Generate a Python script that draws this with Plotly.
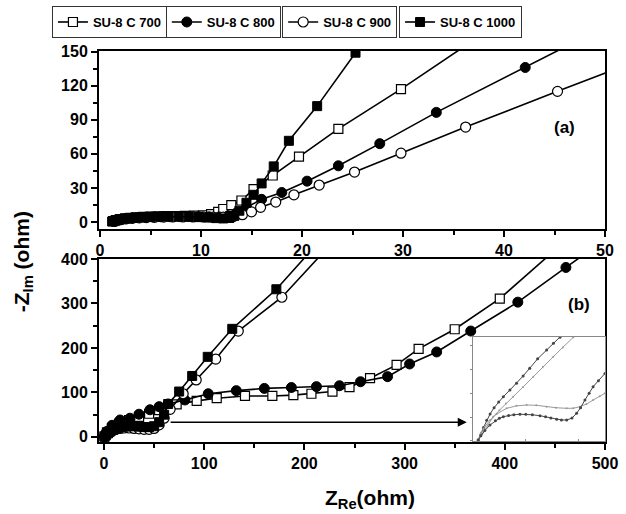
import plotly.graph_objects as go

names = ["SU-8 C 700", "SU-8 C 800", "SU-8 C 900", "SU-8 C 1000"]

# ---- panel (a) ----
xa_700 = [1.3, 1.6, 2.0, 2.5, 3.0, 3.6, 4.3, 5.0, 5.8, 6.6, 7.5, 8.4, 9.3, 10.2, 11.0, 11.7, 12.2, 13.0, 14.0, 15.2, 17.1, 19.7, 23.6, 29.8, 38.0]
ya_700 = [0.8, 1.8, 2.6, 3.2, 3.7, 4.1, 4.5, 4.8, 5.0, 5.2, 5.3, 5.4, 5.6, 6.0, 7.0, 9.0, 11.5, 15.0, 19.0, 29.0, 41.0, 57.6, 82.0, 117.0, 166.0]
xa_800 = [1.3, 1.6, 2.0, 2.5, 3.1, 3.7, 4.4, 5.2, 6.0, 6.9, 7.8, 8.8, 9.8, 10.8, 11.8, 12.7, 13.5, 14.5, 16.0, 18.0, 20.5, 23.6, 27.7, 33.3, 42.1, 54.0]
ya_800 = [0.6, 1.6, 2.4, 3.0, 3.5, 3.9, 4.2, 4.5, 4.7, 4.8, 4.9, 4.9, 4.8, 4.6, 4.5, 5.5, 8.0, 13.0, 20.0, 26.0, 36.0, 49.5, 69.0, 96.5, 136.0, 190.0]
xa_900 = [1.4, 1.7, 2.1, 2.6, 3.2, 3.9, 4.6, 5.4, 6.3, 7.2, 8.2, 9.2, 10.2, 11.2, 12.2, 13.2, 14.1, 15.0, 15.9, 17.4, 19.2, 21.7, 25.2, 29.8, 36.2, 45.3, 57.0]
ya_900 = [0.5, 1.4, 2.2, 2.8, 3.3, 3.7, 4.0, 4.2, 4.4, 4.5, 4.5, 4.5, 4.5, 4.4, 4.4, 4.8, 6.5, 9.0, 13.0, 17.6, 24.0, 32.6, 44.0, 60.6, 83.6, 115.0, 155.0]
xa_1000 = [1.2, 1.5, 1.9, 2.4, 2.9, 3.5, 4.2, 5.0, 5.9, 6.8, 7.8, 8.8, 9.8, 10.7, 11.5, 12.2, 12.8, 13.3, 13.8, 14.5, 15.2, 16.0, 17.2, 18.7, 21.5, 25.3, 30.0]
ya_1000 = [0.5, 1.5, 2.4, 3.0, 3.5, 3.9, 4.3, 4.6, 4.8, 4.9, 4.9, 4.7, 4.4, 4.0, 3.5, 3.2, 3.6, 5.5, 10.0, 17.0, 24.0, 34.0, 49.0, 71.5, 102.0, 149.0, 215.0]

# ---- panel (b) ----
xb_700 = [0.5, 3, 8, 15, 25, 35, 45, 55, 64, 72.5, 92.5, 112.5, 140.7, 168, 189, 207, 228, 245, 265.5, 292, 314, 350, 395, 450]
yb_700 = [1, 10, 20, 30, 38, 45, 52, 60, 68, 73, 81, 87, 92, 92, 94, 97, 102, 112, 132, 162, 198, 242, 311, 420]
xb_800 = [0.5, 2.7, 8, 16, 25.9, 34.9, 45.9, 55, 64, 80.8, 104, 132, 160, 187, 212, 235, 256, 283, 305, 332, 366, 413, 461, 510]
yb_800 = [1, 12, 26, 38, 42, 51, 61, 68, 74, 83, 97, 104, 109, 111, 113, 115, 124, 135.5, 164, 191, 238, 303, 381, 460]
xb_900 = [0.5, 2, 4, 6, 9, 12, 16, 20, 25, 30, 35, 40, 45, 50, 55, 60, 66, 79, 92, 111.5, 134, 177.5, 225]
yb_900 = [0.4, 3.5, 7, 10, 14, 17, 19, 20, 20, 19, 18, 17, 17, 19, 27, 42, 62, 97, 128, 175, 238, 314, 430]
xb_1000 = [0.5, 2, 4, 6, 9, 12, 16, 20, 25, 30, 35, 40, 45, 50, 55, 60, 64, 75, 88, 103.5, 128, 172, 215]
yb_1000 = [0.5, 4, 8, 12, 16, 19, 22, 23, 24, 24, 23, 22, 22, 24, 33, 50, 74, 102, 137, 180, 243, 332, 440]

# ---- inset (arbitrary zoom units) ----
xi_1000 = [4, 6, 8, 10.4, 13, 16, 19.5, 23, 28, 33, 38, 43, 49, 55.8, 61, 66, 70]
yi_1000 = [1, 6, 13, 20, 26, 32, 37.5, 42.6, 49, 55.5, 62.5, 70, 79, 87.5, 94, 99.7, 105]
xi_900 = [4, 7, 11, 15.4, 20, 25, 30.5, 38, 45.7, 53, 60.8, 68, 76, 82]
yi_900 = [1, 7, 15, 23.4, 29.5, 36, 42.6, 52, 61.8, 71.5, 81, 90, 99.7, 107]
xi_700 = [4, 6, 9, 12.9, 18, 25.5, 33, 40.7, 48, 55.8, 63, 71, 76, 81, 86, 91, 96, 100]
yi_700 = [1, 8, 14, 20, 26, 31.4, 33.8, 34.6, 34.3, 33, 32, 31.4, 31.5, 33, 35.5, 39.4, 43, 45.9]
xi_800 = [4, 6, 9, 12.9, 17, 20, 23, 27, 31, 35.6, 40, 45, 50.8, 55, 59, 63.4, 67, 71, 75, 78.5, 81.5, 84.8, 88, 91, 95, 100]
yi_800 = [1, 5, 10, 15.4, 19.5, 21.8, 23.4, 24.6, 25.3, 25.7, 25.6, 25.2, 24.3, 23.2, 22, 20.9, 20.2, 20.2, 22, 26.6, 32, 39.4, 46, 52.2, 58, 65]

arrow_x = [65, 362]
arrow_y = [33, 33]

FONT = "Liberation Sans"
markers = {
    "SU-8 C 700": dict(symbol="square", color="white", size=9, line=dict(color="black", width=1.2)),
    "SU-8 C 800": dict(symbol="circle", color="black", size=10, line=dict(color="black", width=1)),
    "SU-8 C 900": dict(symbol="circle", color="white", size=10, line=dict(color="black", width=1.2)),
    "SU-8 C 1000": dict(symbol="square", color="black", size=9, line=dict(color="black", width=1)),
}
legs = ["legend", "legend2", "legend3", "legend4"]

fig = go.Figure()
top = [(xa_700, ya_700), (xa_800, ya_800), (xa_900, ya_900), (xa_1000, ya_1000)]
bot = [(xb_700, yb_700), (xb_800, yb_800), (xb_900, yb_900), (xb_1000, yb_1000)]
for i, n in enumerate(names):
    fig.add_trace(go.Scatter(x=top[i][0], y=top[i][1], mode="lines+markers", name=n,
                             line=dict(color="black", width=1.6), marker=markers[n],
                             xaxis="x", yaxis="y", legend=legs[i], showlegend=True))
for i, n in enumerate(names):
    fig.add_trace(go.Scatter(x=bot[i][0], y=bot[i][1], mode="lines+markers", name=n,
                             line=dict(color="black", width=1.6), marker=markers[n],
                             xaxis="x2", yaxis="y2", showlegend=False))

inset = [(xi_1000, yi_1000, "#444444", 3), (xi_900, yi_900, "#999999", 2),
         (xi_700, yi_700, "#999999", 2), (xi_800, yi_800, "#444444", 3)]
for xs, ys, c, ms in inset:
    fig.add_trace(go.Scatter(x=xs, y=ys, mode="lines+markers", line=dict(color=c, width=1),
                             marker=dict(color=c, size=ms), xaxis="x3", yaxis="y3", showlegend=False))

axis_common = dict(showline=True, linecolor="black", linewidth=2, mirror=True, showgrid=False,
                   zeroline=False, ticks="outside", ticklen=6, tickwidth=1.5, tickcolor="black",
                   tickfont=dict(family=FONT, size=16, color="black", weight="bold"))

fig.update_layout(
    width=626, height=514, paper_bgcolor="white", plot_bgcolor="white",
    margin=dict(l=99, r=21, t=51, b=72, autoexpand=False),
    xaxis=dict(domain=[0, 1], anchor="y", range=[-0.1, 50], dtick=10,
               minor=dict(ticks="outside", ticklen=4, dtick=5, tickcolor="black"), **axis_common),
    yaxis=dict(domain=[0.545, 1], anchor="x", range=[-6, 150.5], dtick=30,
               minor=dict(ticks="outside", ticklen=4, dtick=15, tickcolor="black"), **axis_common),
    xaxis2=dict(domain=[0, 1], anchor="y2", range=[-5, 500], dtick=100,
                minor=dict(ticks="outside", ticklen=4, dtick=50, tickcolor="black"), **axis_common),
    yaxis2=dict(domain=[0, 0.468], anchor="x2", range=[-11.5, 400], dtick=100,
                minor=dict(ticks="outside", ticklen=4, dtick=50, tickcolor="black"), **axis_common),
    xaxis3=dict(domain=[0.739, 1], anchor="y3", range=[0, 100], showline=True, linecolor="#888888",
                linewidth=1, mirror=True, showgrid=False, zeroline=False, showticklabels=False,
                ticks="inside", ticklen=2, dtick=40, tickcolor="#888888"),
    yaxis3=dict(domain=[0.0026, 0.2685], anchor="x3", range=[0, 100], showline=True, linecolor="#888888",
                linewidth=1, mirror=True, showgrid=False, zeroline=False, showticklabels=False,
                ticks="outside", ticklen=2, dtick=23, tickcolor="#888888"),
)

for i, (lg, xp) in enumerate(zip(legs, [-0.093, 0.132, 0.362, 0.593])):
    fig.update_layout({lg: dict(x=xp, y=1.115, xanchor="left", yanchor="top", orientation="h",
                                bgcolor="white", bordercolor="#333333", borderwidth=1,
                                font=dict(family=FONT, size=13, color="black", weight="bold"),
                                itemwidth=30, tracegroupgap=0)})

fig.add_annotation(x=arrow_x[1], y=arrow_y[1], ax=arrow_x[0], ay=arrow_y[0], xref="x2", yref="y2",
                   axref="x2", ayref="y2", showarrow=True, arrowhead=2, arrowsize=1.2, arrowwidth=1.5,
                   arrowcolor="black", text="")
fig.add_annotation(x=46, y=83, xref="x", yref="y", text="(a)", showarrow=False,
                   font=dict(family=FONT, size=17, color="black", weight="bold"))
fig.add_annotation(x=474, y=297, xref="x2", yref="y2", text="(b)", showarrow=False,
                   font=dict(family=FONT, size=17, color="black", weight="bold"))
fig.add_annotation(x=-0.150, y=0.46, xref="paper", yref="paper", text="-Z<sub>Im</sub> (ohm)",
                   textangle=-90, showarrow=False, xanchor="center", yanchor="middle",
                   font=dict(family=FONT, size=21, color="black", weight="bold"))
fig.add_annotation(x=0.536, y=-0.146, xref="paper", yref="paper", text="Z<sub>Re</sub>(ohm)",
                   showarrow=False, xanchor="center", yanchor="middle",
                   font=dict(family=FONT, size=21, color="black", weight="bold"))

fig.write_html("out.html", config={"displayModeBar": False},
               post_script="document.body.style.margin='0';document.body.style.overflow='hidden';")
